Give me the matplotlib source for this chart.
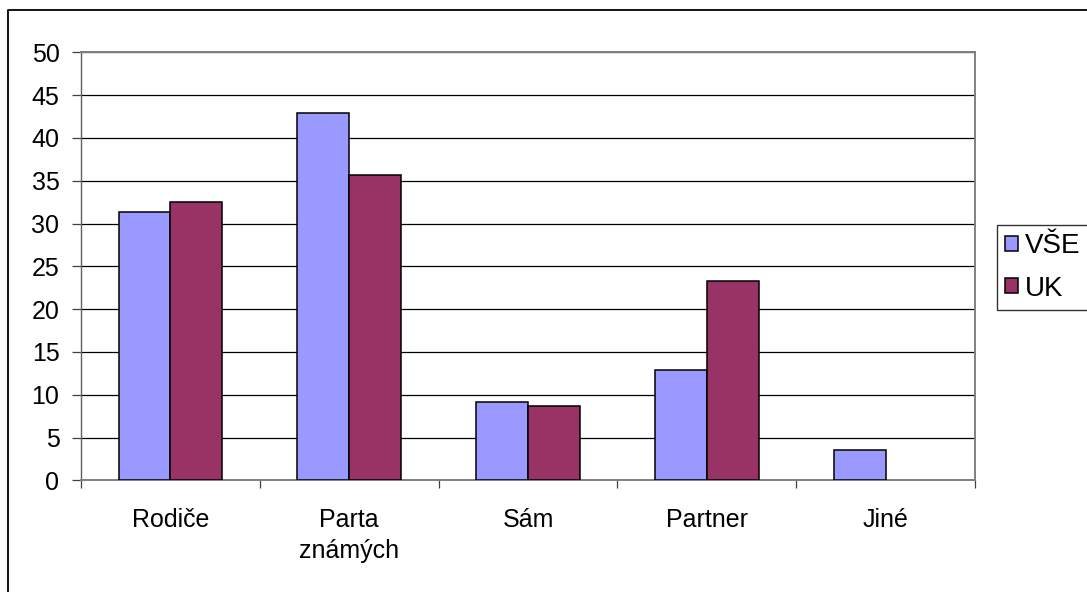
import matplotlib
matplotlib.use("Agg")
import matplotlib.pyplot as plt
from matplotlib.lines import Line2D
import numpy as np

categories = ["Rodiče", "Parta\nznámých", "Sám", "Partner", "Jiné"]
vse = [31.3, 42.9, 9.1, 12.9, 3.5]
uk = [32.5, 35.7, 8.7, 23.3, 0]
series_names = ["VŠE", "UK"]
colors = ["#9999FF", "#993366"]

plt.rcParams['font.family'] = ['Liberation Sans', 'DejaVu Sans']

W, H = 1087, 592
fig = plt.figure(figsize=(W / 100, H / 100), dpi=100)
ax = fig.add_axes([81 / W, 1 - 480.3 / H, (975 - 81) / W, (480.3 - 52.3) / H])

x = np.arange(len(categories))
bw = 0.29
ax.bar(x - bw / 2, vse, bw, color=colors[0], edgecolor="black",
       linewidth=[1.1 if v > 0 else 0 for v in vse],
       label=series_names[0], zorder=3)
ax.bar(x + bw / 2, uk, bw, color=colors[1], edgecolor="black",
       linewidth=[1.1 if v > 0 else 0 for v in uk],
       label=series_names[1], zorder=3)

ax.set_xlim(-0.5, len(categories) - 0.5)
ax.set_ylim(0, 50)
ax.set_yticks(np.arange(0, 51, 5))
ax.yaxis.grid(True, color="black", linewidth=0.9, zorder=1)
ax.set_axisbelow(True)

ax.set_xticks(np.arange(-0.5, len(categories), 1.0))
ax.set_xticklabels([])
ax.set_xticks(x, minor=True)
ax.set_xticklabels(categories, minor=True, fontsize=18, linespacing=1.35, va="top")
ax.tick_params(axis="x", which="minor", length=0, pad=20)
ax.tick_params(axis="x", which="major", length=6, width=0.9, color="#404040")
ax.tick_params(axis="y", length=6.5, width=0.9, pad=9, labelsize=18, color="#404040")

for s in ["top", "right", "bottom"]:
    ax.spines[s].set_color("#808080")
    ax.spines[s].set_linewidth(1.4)
ax.spines["left"].set_color("#606060")
ax.spines["left"].set_linewidth(1.0)

leg = fig.legend(loc="upper left", bbox_to_anchor=(997 / W, 1 - 224.7 / H),
                 fontsize=20, frameon=True, fancybox=False, edgecolor="black",
                 handlelength=0.45, handleheight=0.45, handletextpad=0.25,
                 labelspacing=0.6, borderpad=0.3, borderaxespad=0)
leg.get_frame().set_linewidth(1.0)
leg.get_frame().set_width(200)

# outer chart border (top and left visible)
fig.add_artist(Line2D([8 / W, 8 / W, 1.0], [0.0, 1 - 10 / H, 1 - 10 / H],
                      transform=fig.transFigure, color="black", linewidth=1.3))

fig.savefig("out.png", dpi=100)
